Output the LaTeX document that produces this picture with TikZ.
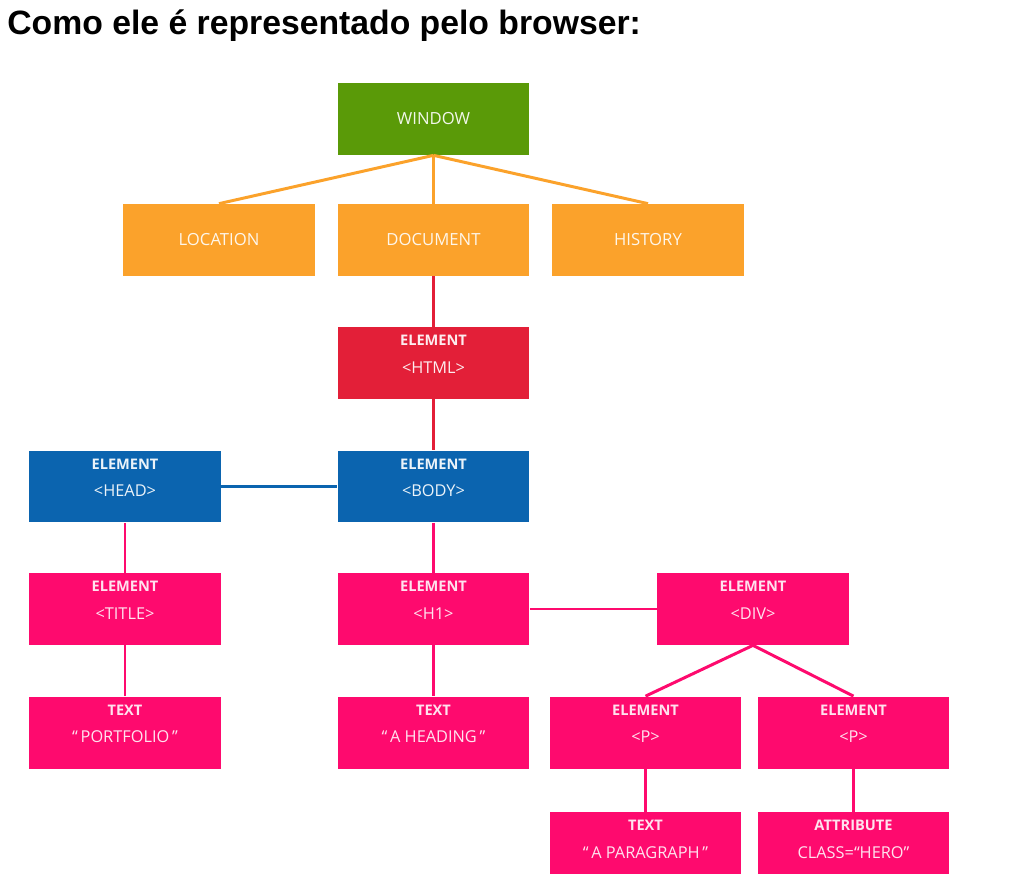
\documentclass[tikz,border=0pt]{standalone}
\usepackage{fontspec}
\setmainfont{Open Sans}
\newfontfamily\titlefont{Liberation Sans}
\definecolor{wingreen}{HTML}{5A9A08}
\definecolor{docorange}{HTML}{FBA22B}
\definecolor{htmlred}{HTML}{E31F38}
\definecolor{headblue}{HTML}{0B64AF}
\definecolor{elpink}{HTML}{FE0A6E}
\tikzset{
  box/.style={minimum width=3.84cm, minimum height=1.44cm, inner sep=0pt, align=center,
    font=\fontsize{9.5}{11}\selectfont},
  twoline/.style={text height=21.5pt, text depth=10.1pt, font=\fontsize{8.3}{15.4}\selectfont},
  greenbox/.style={box, fill=wingreen, text=white!92!wingreen},
  orangebox/.style={box, fill=docorange, text=white!90!docorange},
  redbox/.style={box, twoline, fill=htmlred, text=white!92!htmlred},
  bluebox/.style={box, twoline, fill=headblue, text=white!92!headblue},
  pinkbox/.style={box, twoline, fill=elpink, text=white!88!elpink},
  link/.style={line width=1.7pt}
}
\newcommand{\twol}[2]{{\bfseries #1}\\{\fontsize{9.3}{15.4}\selectfont #2}}
\begin{document}
\begin{tikzpicture}[x=0.02cm, y=-0.02cm]
  \useasboundingbox (0,0) rectangle (1033,874);
  \clip (0,0) rectangle (1033,874);

  % heading
  \node[anchor=base west, inner sep=0pt, font=\titlefont\bfseries\fontsize{19.2}{21}\selectfont] (heading) at (7,35)
    {Como ele é representado pelo browser:};

  % window and its children
  \node[greenbox] (window) at (433.5,119) {WINDOW};
  \node[orangebox] (location) at (219,240) {LOCATION};
  \node[orangebox] (document) at (433.5,240) {DOCUMENT};
  \node[orangebox] (history) at (648,240) {HISTORY};

  % html, head, body
  \node[redbox] (html) at (433.5,363) {\twol{ELEMENT}{<HTML>}};
  \node[bluebox] (head) at (125,486.5) {\twol{ELEMENT}{<HEAD>}};
  \node[bluebox] (body) at (433.5,486.5) {\twol{ELEMENT}{<BODY>}};

  % elements
  \node[pinkbox] (title) at (125,609) {\twol{ELEMENT}{<TITLE>}};
  \node[pinkbox] (hone) at (433.5,609) {\twol{ELEMENT}{<H1>}};
  \node[pinkbox] (div) at (753,609) {\twol{ELEMENT}{<DIV>}};
  \node[pinkbox] (portfolio) at (125,732.5) {\twol{TEXT}{“\,PORTFOLIO\,”}};
  \node[pinkbox] (aheading) at (433.5,732.5) {\twol{TEXT}{“\,A HEADING\,”}};
  \node[pinkbox] (pone) at (645.5,732.5) {\twol{ELEMENT}{<P>}};
  \node[pinkbox] (ptwo) at (853.5,732.5) {\twol{ELEMENT}{<P>}};
  \node[pinkbox] (para) at (645.5,848) {\twol{TEXT}{“\,A PARAGRAPH\,”}};
  \node[pinkbox] (hero) at (853.5,848) {\twol{ATTRIBUTE}{CLASS=“HERO”}};

  % connectors
  \draw[link, docorange] (window.south) -- (location.north);
  \draw[link, docorange] (window.south) -- (document.north);
  \draw[link, docorange] (window.south) -- (history.north);
  \draw[link, htmlred] (document.south) -- (html.north);
  \draw[link, htmlred] (html.south) -- (body.north);
  \draw[link, headblue] (head.east) -- (body.west);
  \draw[link, elpink] (head.south) -- (title.north);
  \draw[link, elpink] (body.south) -- (hone.north);
  \draw[link, elpink] (hone.east) -- (div.west);
  \draw[link, elpink] (title.south) -- (portfolio.north);
  \draw[link, elpink] (hone.south) -- (aheading.north);
  \draw[link, elpink] (div.south) -- (pone.north);
  \draw[link, elpink] (div.south) -- (ptwo.north);
  \draw[link, elpink] (pone.south) -- (para.north);
  \draw[link, elpink] (ptwo.south) -- (hero.north);
\end{tikzpicture}
\end{document}
